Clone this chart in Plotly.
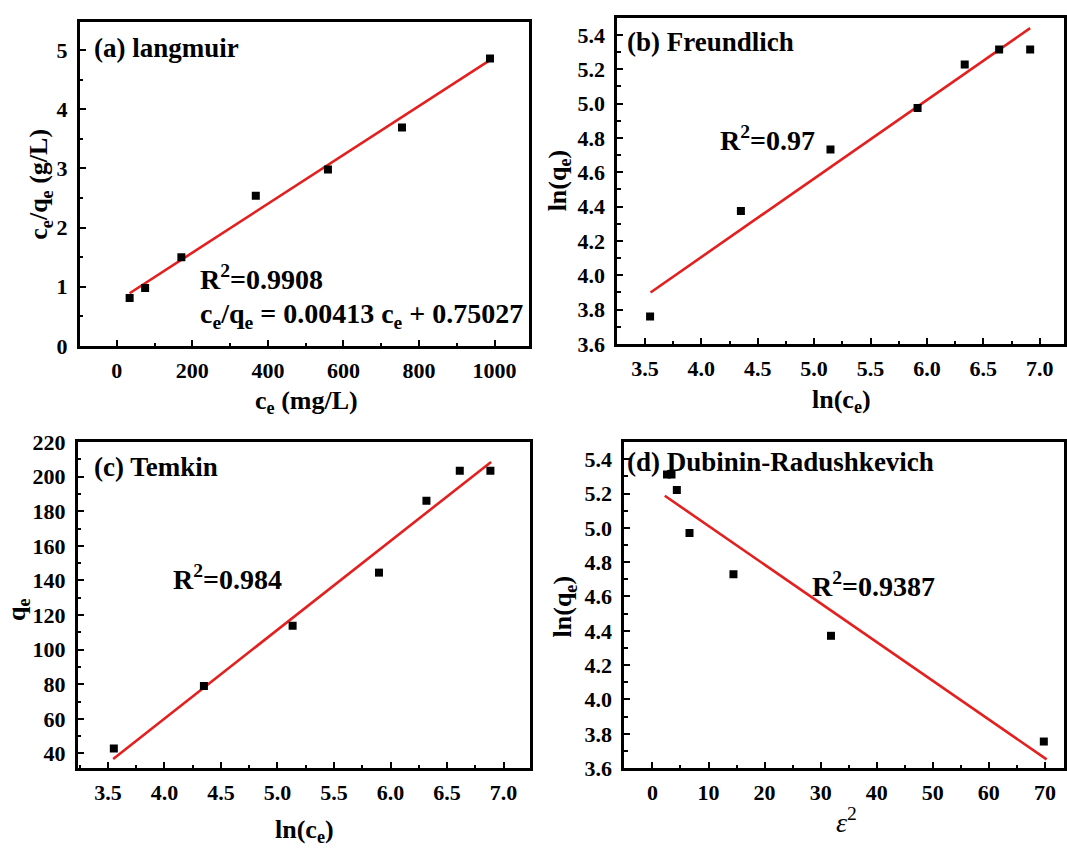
import plotly.graph_objects as go

# ---------------- data ----------------
# (a) Langmuir
ce_a = [34, 75, 171, 368, 559, 755, 988]
ceqe_a = [0.81, 0.98, 1.50, 2.54, 2.98, 3.69, 4.86]
fit_a_x = [34, 990]
fit_a_y = [0.89, 4.84]

# (b) Freundlich
lnce_b = [3.546, 4.351, 5.145, 5.917, 6.335, 6.640, 6.915]
lnqe_b = [3.760, 4.374, 4.733, 4.975, 5.228, 5.315, 5.315]
fit_b_x = [3.55, 6.915]
fit_b_y = [3.90, 5.44]

# (c) Temkin
lnce_c = [3.552, 4.349, 5.134, 5.898, 6.318, 6.613, 6.884]
qe_c = [42.8, 79.0, 113.8, 144.5, 186.0, 203.4, 203.4]
fit_c_x = [3.546, 6.89]
fit_c_y = [36.8, 208.5]

# (d) Dubinin-Radushkevich
eps2_d = [2.6, 3.4, 4.35, 6.61, 14.45, 31.84, 69.8]
lnqe_d = [5.31, 5.31, 5.22, 4.97, 4.73, 4.371, 3.755]
fit_d_x = [2.2, 70.3]
fit_d_y = [5.187, 3.651]

W, H = 1067, 852
FONT = "Liberation Serif"
RED = "#e3201f"


def px_x(p):
    return p / W


def px_y(p):
    return 1 - p / H


fig = go.Figure()

panels = [
    ("x", "y", ce_a, ceqe_a, fit_a_x, fit_a_y),
    ("x2", "y2", lnce_b, lnqe_b, fit_b_x, fit_b_y),
    ("x3", "y3", lnce_c, qe_c, fit_c_x, fit_c_y),
    ("x4", "y4", eps2_d, lnqe_d, fit_d_x, fit_d_y),
]
for xa, ya, xs, ys, fx, fy in panels:
    fig.add_trace(go.Scatter(x=fx, y=fy, mode="lines", xaxis=xa, yaxis=ya,
                             line=dict(color=RED, width=2.6), showlegend=False))
    fig.add_trace(go.Scatter(x=xs, y=ys, mode="markers", xaxis=xa, yaxis=ya,
                             marker=dict(symbol="square", size=8, color="black"),
                             showlegend=False))


def axis(domain, rng, dtick, minor, fmt, anchor, is_x):
    return dict(
        domain=domain, range=rng, dtick=dtick, tick0=0, tickformat=fmt,
        anchor=anchor, showline=True, linewidth=2.6, linecolor="black",
        mirror=True, ticks="inside", ticklen=6, tickwidth=2, tickcolor="black",
        minor=dict(ticks="inside", ticklen=3.5, tickwidth=2, dtick=minor, tickcolor="black"),
        showgrid=False, zeroline=False,
        tickfont=dict(family=FONT, size=22, color="black", weight="bold"),
        ticklabelstandoff=3 if is_x else 5,
    )


# panel boxes in pixels
A = (80, 530, 10, 344)
B = (619, 1067, 6, 342)
C = (78, 531, 443, 779)
D = (626, 1067, 443, 779)


def dom(box):
    x0, x1, y0, y1 = box
    return [px_x(x0), px_x(x1)], [px_y(y1), px_y(y0)]


da, ea = dom(A)
db, eb = dom(B)
dc, ec = dom(C)
dd, ed = dom(D)

fig.update_layout(
    width=W, height=H, margin=dict(l=0, r=0, t=0, b=0),
    paper_bgcolor="white", plot_bgcolor="white", showlegend=False,
    xaxis=axis(da, [-98, 1090], 200, 100, "d", "y", True),
    yaxis=axis(ea, [0, 5.48], 1, 0.5, "d", "x", False),
    xaxis2=axis(db, [3.255, 7.215], 0.5, 0.25, ".1f", "y2", True),
    yaxis2=axis(eb, [3.6, 5.5], 0.2, 0.1, ".1f", "x2", False),
    xaxis3=axis(dc, [3.233, 7.23], 0.5, 0.25, ".1f", "y3", True),
    yaxis3=axis(ec, [31.5, 220], 20, 10, "d", "x3", False),
    xaxis4=axis(dd, [-5.03, 73.4], 10, 5, "d", "y4", True),
    yaxis4=axis(ed, [3.6, 5.5], 0.2, 0.1, ".1f", "x4", False),
)


def ann(text, x, y, size, xanchor="left", angle=0, bold=True):
    fig.add_annotation(
        text=text, x=px_x(x), y=px_y(y), xref="paper", yref="paper",
        xanchor=xanchor, yanchor="middle", showarrow=False, textangle=angle,
        font=dict(family=FONT, size=size, color="black",
                  weight="bold" if bold else "normal"),
    )


# panel labels
ann("(a) langmuir", 92, 37, 27)
ann("(b) Freundlich", 627, 31, 27)
ann("(c) Temkin", 92, 469, 27)
ann("(d) Dubinin-Radushkevich", 627, 464, 27)

# R^2 and equation
ann("R<sup>2</sup>=0.9908", 199, 274, 28)
ann("c<sub>e</sub>/q<sub>e</sub> = 0.00413 c<sub>e</sub> + 0.75027", 199, 313, 28)
ann("R<sup>2</sup>=0.97", 720, 130, 28)
ann("R<sup>2</sup>=0.984", 171, 583, 28)
ann("R<sup>2</sup>=0.9387", 812, 590, 28)

# axis titles
ann("c<sub>e</sub>/q<sub>e</sub> (g/L)", 40, 177, 26, "center", -90)
ann("c<sub>e</sub> (mg/L)", 307, 402, 26, "center")
ann("ln(q<sub>e</sub>)", 560, 173, 26, "center", -90)
ann("ln(c<sub>e</sub>)", 844, 401, 26, "center")
ann("q<sub>e</sub>", 18, 615, 26, "center", -90)
ann("ln(c<sub>e</sub>)", 305, 844, 26, "center")
ann("ln(q<sub>e</sub>)", 566, 612, 26, "center", -90)
ann("<i>ε</i><sup>2</sup>", 849, 833, 28, "center", 0, False)

fig.write_html("out.html")
